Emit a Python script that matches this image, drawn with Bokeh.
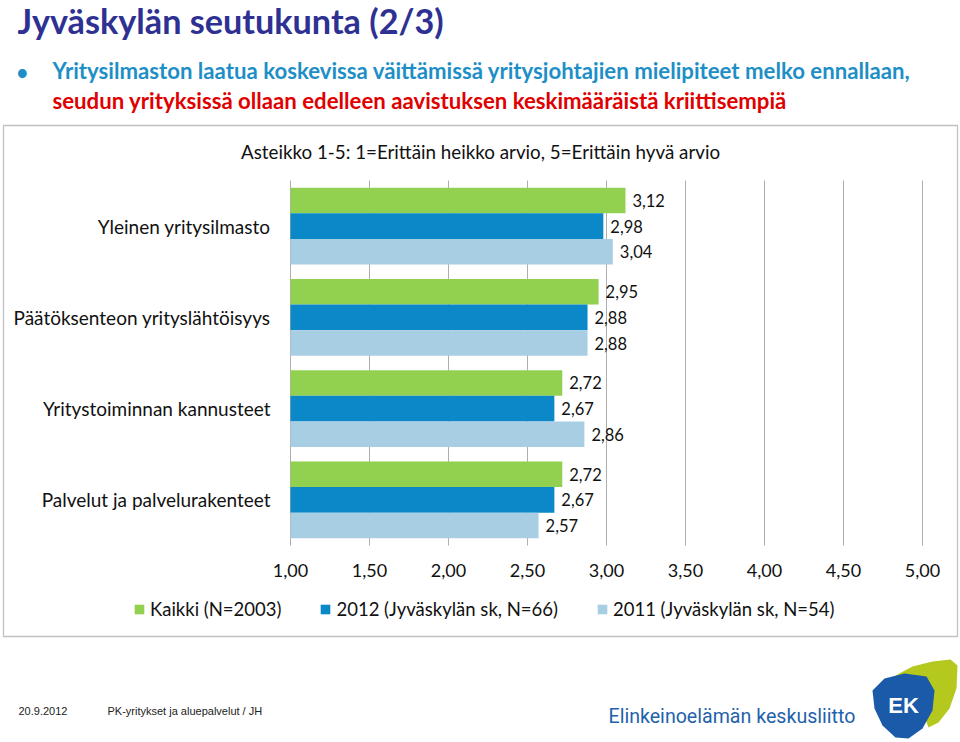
from bokeh.plotting import figure
from bokeh.models import (Range1d, Label, BoxAnnotation, Legend, LegendItem, LinearAxis,
                          CustomJSTickFormatter, FixedTicker, ColumnDataSource, PolyAnnotation)
from bokeh.transform import dodge
from bokeh.core.properties import value
from bokeh.embed import file_html
from bokeh.resources import INLINE

# ---------------- data ----------------
categories = ["Yleinen yritysilmasto", "Päätöksenteon yrityslähtöisyys",
              "Yritystoiminnan kannusteet", "Palvelut ja palvelurakenteet"]
series_names = ["Kaikki (N=2003)", "2012 (Jyväskylän sk, N=66)", "2011 (Jyväskylän sk, N=54)"]
kaikki = [3.12, 2.95, 2.72, 2.72]
jkl_2012 = [2.98, 2.88, 2.67, 2.67]
jkl_2011 = [3.04, 2.88, 2.86, 2.57]
x_ticks = [1.0, 1.5, 2.0, 2.5, 3.0, 3.5, 4.0, 4.5, 5.0]
series_colors = ["#92D050", "#0A88C8", "#A8CEE3"]

title_text = "Jyväskylän seutukunta (2/3)"
bullet_line1 = "Yritysilmaston laatua koskevissa väittämissä yritysjohtajien mielipiteet melko ennallaan,"
bullet_line2 = "seudun yrityksissä ollaan edelleen aavistuksen keskimääräistä kriittisempiä"
chart_title = "Asteikko 1-5: 1=Erittäin heikko arvio, 5=Erittäin hyvä arvio"
footer_date = "20.9.2012"
footer_text = "PK-yritykset ja aluepalvelut / JH"
logo_text = "Elinkeinoelämän keskusliitto"

FONT = "Lato"

def fmt(v):
    return f"{v:.2f}".replace(".", ",")

idx = list(range(len(categories)))
src = ColumnDataSource(dict(
    idx=idx,
    kaikki=kaikki, jkl_2012=jkl_2012, jkl_2011=jkl_2011,
    kaikki_lbl=[fmt(v) for v in kaikki],
    jkl_2012_lbl=[fmt(v) for v in jkl_2012],
    jkl_2011_lbl=[fmt(v) for v in jkl_2011],
))

# ---------------- layout (page pixels) ----------------
W, H = 960, 742
PX_LEFT, PX_RIGHT = 290, 922          # x = first tick / last tick
PY_TOP, PY_BOTTOM = 180, 545          # top / bottom of plot area
x_per_px = (x_ticks[-1] - x_ticks[0]) / (PX_RIGHT - PX_LEFT)
n = len(categories)
y_per_px = n / (PY_BOTTOM - PY_TOP)
x_start = x_ticks[0] - PX_LEFT * x_per_px
x_end = x_ticks[-1] + (W - PX_RIGHT) * x_per_px
y_top = -0.5 - PY_TOP * y_per_px
y_bottom = (n - 0.5) + (H - PY_BOTTOM) * y_per_px

p = figure(width=W, height=H,
           x_range=Range1d(x_start, x_end),
           y_range=Range1d(y_bottom, y_top),
           output_backend="svg", toolbar_location=None,
           x_axis_type=None, y_axis_type=None,
           min_border=0, min_border_left=0, min_border_right=0,
           min_border_top=0, min_border_bottom=0)
p.outline_line_color = None
p.background_fill_color = "white"
p.border_fill_color = "white"
p.grid.visible = False

def sx(X):
    return X
def sy(Y):
    return H - Y

# vertical gridlines over the plot area only
p.segment(x0=x_ticks, x1=x_ticks, y0=[-0.5] * len(x_ticks), y1=[n - 0.5] * len(x_ticks),
          line_color="#AFAFAF", line_width=1)

fields = ["kaikki", "jkl_2012", "jkl_2011"]
bar_h = 0.281
offsets = [-bar_h, 0.0, bar_h]
renderers = []
for f, off, col in zip(fields, offsets, series_colors):
    r = p.hbar(y=dodge("idx", off), left=x_ticks[0], right=f, height=bar_h,
               source=src, fill_color=col, line_color=None)
    renderers.append(r)
    p.text(x=f, y=dodge("idx", off), text=f + "_lbl", source=src,
           x_offset=7, text_baseline="middle", text_align="left",
           text_font=value(FONT), text_font_size="16.5px", text_color="#111111")

# axes fixed at the plot-area edges
xaxis = LinearAxis(fixed_location=n - 0.5, ticker=FixedTicker(ticks=x_ticks),
                   formatter=CustomJSTickFormatter(code="return tick.toFixed(2).replace('.', ',');"))
xaxis.axis_line_color = None
xaxis.major_tick_line_color = None
xaxis.minor_tick_line_color = None
xaxis.major_tick_out = 0
xaxis.major_tick_in = 0
xaxis.major_label_standoff = 18
xaxis.major_label_text_font = FONT
xaxis.major_label_text_font_size = "18px"
xaxis.major_label_text_color = "#111111"
p.add_layout(xaxis, "below")

yaxis = LinearAxis(fixed_location=x_ticks[0], ticker=FixedTicker(ticks=idx),
                   formatter=CustomJSTickFormatter(args=dict(cats=categories),
                                                   code="return cats[Math.round(tick)] || '';"))
yaxis.axis_line_color = None
yaxis.major_tick_line_color = None
yaxis.minor_tick_line_color = None
yaxis.major_tick_out = 0
yaxis.major_tick_in = 0
yaxis.major_label_standoff = 20
yaxis.major_label_text_font = FONT
yaxis.major_label_text_font_size = "19px"
yaxis.major_label_text_color = "#111111"
p.add_layout(yaxis, "left")

# legend
legend = Legend(items=[LegendItem(label=nm, renderers=[r]) for nm, r in zip(series_names, renderers)],
                orientation="horizontal", location=(sx(133), sy(620)),
                padding=0, margin=0, spacing=38, label_standoff=5,
                glyph_width=12, glyph_height=12, label_height=18,
                label_text_font=FONT, label_text_font_size="18.5px", label_text_color="#111111",
                border_line_color=None, background_fill_alpha=0)
p.add_layout(legend, "center")

# chart box
p.add_layout(BoxAnnotation(left=sx(3), right=sx(957), top=sy(125), bottom=sy(636),
                           left_units="screen", right_units="screen",
                           top_units="screen", bottom_units="screen",
                           fill_alpha=0, line_color="#333333", line_width=1.3))

def lab(X, Y, text, size, color, bold=False, align="left", baseline="middle", font=FONT):
    p.add_layout(Label(x=sx(X), y=sy(Y), x_units="screen", y_units="screen", text=text,
                       text_font=font, text_font_size=size, text_color=color,
                       text_font_style="bold" if bold else "normal",
                       text_align=align, text_baseline=baseline))

# logo (decorative) - drawn first so texts sit on top
green_pts = [(895, 675), (912, 666), (932, 661), (950, 659), (957, 665), (956, 688), (949, 708),
             (938, 722), (928, 727), (918, 700), (906, 684)]
blue_pts = [(872, 690), (884, 678), (904, 673), (926, 676), (934, 690), (932, 710),
            (922, 728), (908, 738), (895, 737), (882, 725), (874, 708)]
p.add_layout(PolyAnnotation(xs=[sx(x) for x, _ in green_pts], ys=[sy(y) for _, y in green_pts],
                            xs_units="screen", ys_units="screen",
                            fill_color="#B5C81E", fill_alpha=1, line_color=None))
p.add_layout(PolyAnnotation(xs=[sx(x) for x, _ in blue_pts], ys=[sy(y) for _, y in blue_pts],
                            xs_units="screen", ys_units="screen",
                            fill_color="#1A5AA8", fill_alpha=1, line_color=None))
lab(903, 705, "EK", "22px", "white", bold=True, align="center", font="Liberation Sans")

# slide texts
lab(17, 20, title_text, "34.2px", "#2E3192", bold=True)
lab(16, 71, "•", "20px", "#1E8FC6", bold=True)
lab(52, 70, bullet_line1, "22.2px", "#1E8FC6", bold=True)
lab(52, 100, bullet_line2, "22.2px", "#E00000", bold=True)
lab(480, 151, chart_title, "18.8px", "#111111", align="center")

# footer
lab(18, 710, footer_date, "11px", "#222222", font="Liberation Sans")
lab(107, 710, footer_text, "11px", "#222222", font="Liberation Sans")
lab(608, 716, logo_text, "19.6px", "#1F62AC", font="Roboto")

open("out.html", "w").write(file_html(p, INLINE))
